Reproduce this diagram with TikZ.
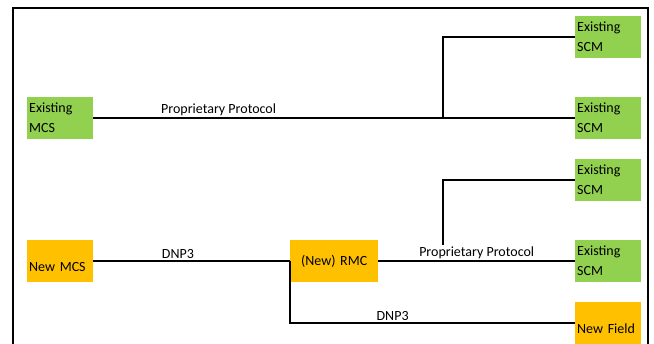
\documentclass[tikz,border=0pt]{standalone}
\usepackage{fontspec}
\setmainfont{Carlito}
\usepackage{tikz}
\usetikzlibrary{calc}
\definecolor{scmgreen}{HTML}{92D050}
\definecolor{newgold}{HTML}{FFC000}
\tikzstyle{cmbox}=[inner sep=2pt, minimum width=66pt, minimum height=42pt, text width=62pt, align=left, anchor=north west, font=\fontsize{14}{20}\selectfont]
\tikzstyle{oldbox}=[cmbox, fill=scmgreen]
\tikzstyle{newbox}=[cmbox, fill=newgold]
\tikzstyle{link}=[line width=1.6pt]
\tikzstyle{proto}=[above, inner sep=1.5pt, font=\fontsize{14}{17}\selectfont]

\begin{document}
\begin{tikzpicture}[x=1pt,y=-1pt]
\useasboundingbox (0,0) rectangle (654,344);
\draw[line width=1.8pt] (13,344) -- (13,8) -- (648,8) -- (648,344);
\node[oldbox] (mcs) at (27,97) {Existing\\MCS};
\node[oldbox] (scma) at (575,16) {Existing\\SCM};
\node[oldbox] (scmb) at (575,97) {Existing\\SCM};
\node[oldbox] (scmc) at (575,159) {Existing\\SCM};
\node[oldbox] (scmd) at (575,240) {Existing\\SCM};
\node[newbox] (nmcs) at (27,240) {~\\New MCS};
\node[newbox, minimum width=88pt, text width=84pt, align=center] (rmc) at (290,240) {(New) RMC};
\node[newbox] (field) at (575,302) {~\\New Field};
\coordinate (ja) at (443,118);
\coordinate (jb) at (443,261);
\draw[link] (ja) |- (scma.west);
\draw[link] (jb) |- (scmc.west);
\draw[link] (mcs.east) -- node[proto, pos=0.26] {Proprietary Protocol} (scmb.west);
\draw[link] (rmc.east) -- node[proto, fill=white, pos=0.5] {Proprietary Protocol} (scmd.west);
\draw[link] (nmcs.east) -- node[proto, pos=0.43] {DNP3} (rmc.west);
\draw[link] (rmc.west) |- node[proto, pos=0.68] {DNP3} (field.west);
\end{tikzpicture}
\end{document}
